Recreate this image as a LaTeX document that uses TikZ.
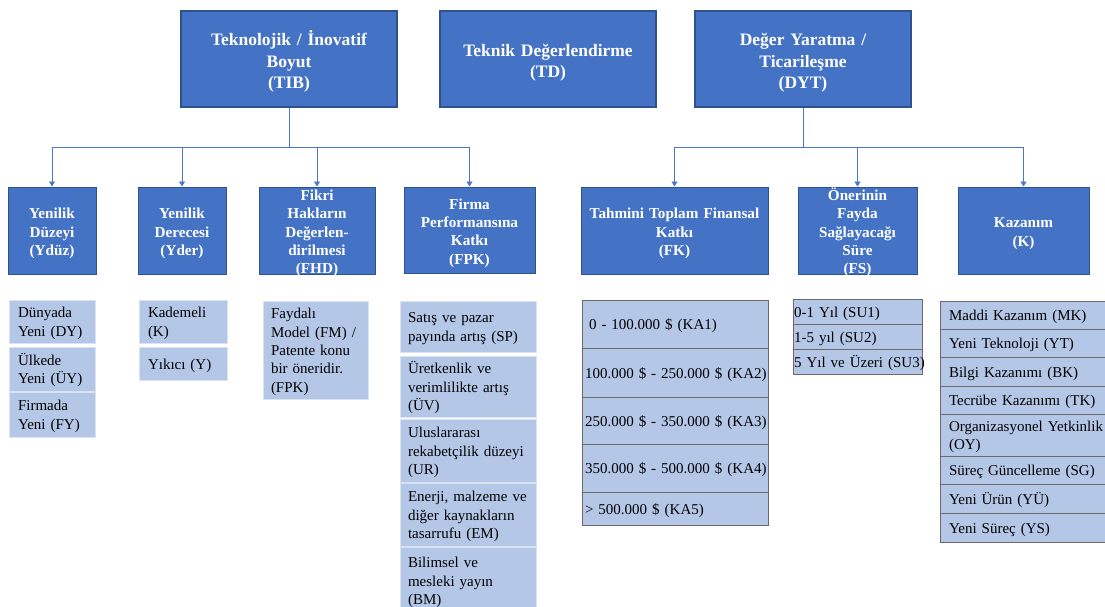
\documentclass[tikz,border=0pt]{standalone}
\usepackage{fontspec}
\setmainfont{Liberation Serif}
\usetikzlibrary{arrows.meta}
\hyphenpenalty=10000
\exhyphenpenalty=10000
\definecolor{dblue}{HTML}{4472C4}
\definecolor{dborder}{HTML}{2F528F}
\definecolor{lblue}{HTML}{B4C7E7}
\definecolor{lborder}{HTML}{DAE3F3}
\definecolor{tborder}{HTML}{6A6A6A}
\definecolor{lineblue}{HTML}{4A78C8}
\newcommand\myitem[8]{% name, style, pad, x1, y1, x2, y2, text
  \pgfmathsetmacro\myCx{(#4+#6)/2}%
  \pgfmathsetmacro\myCy{(#5+#7)/2}%
  \pgfmathsetmacro\myW{#6-#4}%
  \pgfmathsetmacro\myH{#7-#5}%
  \pgfmathsetmacro\myTW{#6-#4-2*#3}%
  \node[#2, inner xsep=#3pt, minimum width=\myW pt, minimum height=\myH pt, text width=\myTW pt] (#1) at (\myCx,\myCy) {#8};}
\begin{document}
\begin{tikzpicture}[x=1pt,y=-1pt,
  topbox/.style={draw=dborder, line width=1.3pt, fill=dblue, text=white, align=center, inner ysep=-4pt,
    font=\fontsize{17.5}{21.5}\selectfont\bfseries,
    execute at begin node={\rule{0pt}{20.5pt}}, execute at end node={\rule[-4pt]{0pt}{0pt}}},
  subbox/.style={draw=dborder, line width=1pt, fill=dblue, text=white, align=center, inner ysep=-6pt,
    font=\fontsize{15.2}{18.3}\selectfont\bfseries,
    execute at begin node={\rule{0pt}{17.1pt}}, execute at end node={\rule[-4pt]{0pt}{0pt}}},
  itembox/.style={draw=lborder, line width=0.8pt, fill=lblue, align=left, inner ysep=0pt,
    font=\fontsize{15}{18.3}\selectfont,
    execute at begin node={\rule{0pt}{14.6pt}}, execute at end node={\rule[-3.5pt]{0pt}{0pt}}},
  cellbox/.style={draw=tborder, line width=1pt, fill=lblue, align=left, inner ysep=0pt,
    font=\fontsize{15}{18.3}\selectfont,
    execute at begin node={\rule{0pt}{14.6pt}}, execute at end node={\rule[-3.5pt]{0pt}{0pt}}},
  connline/.style={draw=lineblue, line width=0.9pt},
  arrline/.style={connline, -{Triangle[width=6pt,length=5pt]}}]
\useasboundingbox (0,0) rectangle (1105,607);
\clip (0,0) rectangle (1105,607);
\fill[white] (0,0) rectangle (1105,607);

% top row
\myitem{TIB}{topbox}{3}{181}{11}{397}{107}{Teknolojik / İnovatif\\Boyut\\(TIB)}
\myitem{TD}{topbox}{3}{440}{11}{656}{107}{Teknik Değerlendirme\\(TD)}
\myitem{DYT}{topbox}{3}{695}{11}{911}{107}{Değer Yaratma /\\Ticarileşme\\(DYT)}

% second row
\myitem{YDZ}{subbox}{3}{8}{187}{96}{274}{Yenilik\\Düzeyi\\(Ydüz)}
\myitem{YDER}{subbox}{3}{138}{187}{226}{274}{Yenilik\\Derecesi\\(Yder)}
\myitem{FHD}{subbox}{3}{259}{187}{375}{274}{Fikri\\Hakların\\Değerlen-\\dirilmesi\\(FHD)}
\myitem{FPK}{subbox}{3}{404}{187}{535}{273}{Firma\\Performansına\\Katkı\\(FPK)}
\myitem{FK}{subbox}{3}{581}{187}{768}{274}{Tahmini Toplam Finansal\\Katkı\\(FK)}
\myitem{FS}{subbox}{3}{798}{187}{917}{274}{Önerinin\\Fayda\\Sağlayacağı\\Süre\\(FS)}
\myitem{K}{subbox}{3}{958}{187}{1089}{274}{Kazanım\\(K)}

% connectors
\coordinate (tibJ) at (289,147);
\coordinate (dytJ) at (803,147);
\draw[connline] (TIB.south) -- (tibJ);
\draw[connline] (YDZ.north |- tibJ) -- (FPK.north |- tibJ);
\foreach \n in {YDZ,YDER,FHD,FPK} \draw[arrline] (\n.north |- tibJ) -- (\n.north);
\draw[connline] (DYT.south) -- (dytJ);
\draw[connline] (FK.north |- dytJ) -- (K.north |- dytJ);
\foreach \n in {FK,FS,K} \draw[arrline] (\n.north |- dytJ) -- (\n.north);

% Ydüz list
\myitem{dy}{itembox}{9}{9}{300}{95}{343}{Dünyada\\Yeni~(DY)}
\myitem{uy}{itembox}{9}{9}{347}{95}{391}{Ülkede\\Yeni~(ÜY)}
\myitem{fy}{itembox}{9}{9}{392}{95}{437}{Firmada\\Yeni~(FY)}

% Yder list
\myitem{kk}{itembox}{9}{139}{300}{227}{343}{Kademeli\\(K)}
\myitem{yy}{itembox}{9}{139}{347}{227}{380}{Yıkıcı~(Y)}

% FHD list
\myitem{fm}{itembox}{8}{263}{301}{368}{399}{Faydalı\\Model~(FM)~/\\Patente~konu\\bir~öneridir.\\(FPK)}

% FPK list
\myitem{sp}{itembox}{8}{400}{301}{536}{352}{Satış~ve~pazar\\payında~artış~(SP)}
\myitem{uv}{itembox}{8}{400}{356}{536}{417}{Üretkenlik~ve\\verimlilikte~artış\\(ÜV)}
\myitem{ur}{itembox}{8}{400}{419}{536}{482}{Uluslararası\\rekabetçilik~düzeyi\\(UR)}
\myitem{em}{itembox}{8}{400}{483}{536}{546}{Enerji,~malzeme~ve\\diğer~kaynakların\\tasarrufu~(EM)}
\myitem{bm}{itembox}{8}{400}{547}{536}{614}{Bilimsel~ve\\mesleki~yayın\\(BM)}

% FK table
\myitem{ka1}{cellbox}{7}{582}{300}{768}{348}{0~-~100.000~\$~(KA1)}
\myitem{ka2}{cellbox}{3}{582}{348}{768}{397}{100.000~\$~-~250.000~\$~(KA2)}
\myitem{ka3}{cellbox}{3}{582}{397}{768}{444}{250.000~\$~-~350.000~\$~(KA3)}
\myitem{ka4}{cellbox}{3}{582}{444}{768}{492}{350.000~\$~-~500.000~\$~(KA4)}
\myitem{ka5}{cellbox}{3}{582}{492}{768}{525}{\textgreater~500.000~\$~(KA5)}

% FS table
\myitem{su1}{cellbox}{1}{793}{299}{922}{324}{0-1~Yıl~(SU1)}
\myitem{su2}{cellbox}{1}{793}{324}{922}{349}{1-5~yıl~(SU2)}
\myitem{su3}{cellbox}{1}{793}{349}{922}{374}{5~Yıl~ve~Üzeri~(SU3)}

% K table
\myitem{mk}{cellbox}{9}{940}{301}{1125}{329}{Maddi~Kazanım~(MK)}
\myitem{yt}{cellbox}{9}{940}{329}{1125}{357}{Yeni~Teknoloji~(YT)}
\myitem{bk}{cellbox}{9}{940}{357}{1125}{386}{Bilgi~Kazanımı~(BK)}
\myitem{tk}{cellbox}{9}{940}{386}{1125}{414}{Tecrübe~Kazanımı~(TK)}
\myitem{oy}{cellbox}{9}{940}{414}{1125}{456}{Organizasyonel~Yetkinlik\\(OY)}
\myitem{sg}{cellbox}{9}{940}{456}{1125}{484}{Süreç~Güncelleme~(SG)}
\myitem{yu}{cellbox}{9}{940}{484}{1125}{513}{Yeni~Ürün~(YÜ)}
\myitem{ys}{cellbox}{9}{940}{513}{1125}{542}{Yeni~Süreç~(YS)}
\end{tikzpicture}
\end{document}
